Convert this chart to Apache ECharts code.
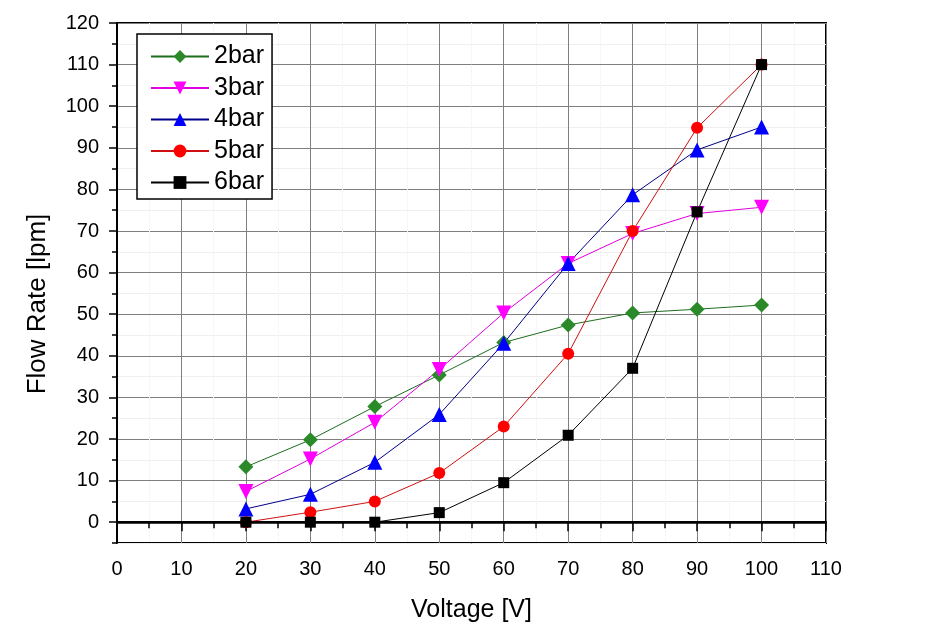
<!DOCTYPE html>
<html>
<head>
<meta charset="utf-8">
<script src="https://cdn.jsdelivr.net/npm/echarts@6/dist/echarts.min.js"></script>
<style>html,body{margin:0;padding:0;background:#fff}#c{width:928px;height:639px}</style>
</head>
<body>
<div id="c"></div>
<script>
const voltage = [20, 30, 40, 50, 60, 70, 80, 90, 100];
const bar2 = [13.3, 19.8, 27.8, 35.4, 43.2, 47.4, 50.3, 51.2, 52.2];
const bar3 = [7.4, 15.2, 24.0, 36.7, 50.3, 62.2, 69.4, 74.2, 75.7];
const bar4 = [3.2, 6.7, 14.4, 25.9, 43.0, 62.2, 78.7, 89.5, 95.0];
const bar5 = [0, 2.4, 5.0, 11.8, 23.0, 40.5, 70.0, 94.8, 110.0];
const bar6 = [0, 0, 0, 2.3, 9.5, 20.9, 37.0, 74.6, 110.0];
const yMajorTicks = [0, 10, 20, 30, 40, 50, 60, 70, 80, 90, 100, 110, 120];

const FONT = 'Liberation Sans, Arial, sans-serif';
function pairs(ys) { return voltage.map((x, i) => [x, ys[i]]); }

const seriesDefs = [
  { name: '2bar', data: bar2, color: '#2a8a2a', line: '#1e6e1e', symbol: 'diamond', size: 15 },
  { name: '3bar', data: bar3, color: '#ff00ff', line: '#e000e0', symbol: 'triangle', size: 15, rotate: 180 },
  { name: '4bar', data: bar4, color: '#0000ff', line: '#00008b', symbol: 'triangle', size: 15 },
  { name: '5bar', data: bar5, color: '#ff0000', line: '#d01010', symbol: 'circle', size: 12 },
  { name: '6bar', data: bar6, color: '#000000', line: '#000000', symbol: 'rect', size: 11 }
];

const series = seriesDefs.map(d => ({
  name: d.name,
  type: 'line',
  xAxisIndex: 0,
  yAxisIndex: 0,
  data: pairs(d.data),
  symbol: d.symbol,
  symbolSize: d.size,
  symbolRotate: d.rotate || 0,
  itemStyle: { color: d.color },
  lineStyle: { color: d.line, width: 1 },
  animation: false
}));
series[4].markLine = {
  silent: true,
  symbol: 'none',
  label: { show: false },
  lineStyle: { color: '#000', width: 2.5, type: 'solid' },
  data: [{ yAxis: 0 }]
};

const gridRect = { left: 117, right: 102, top: 23, bottom: 96 };

const chart = echarts.init(document.getElementById('c'));
chart.setOption({
  backgroundColor: '#fff',
  animation: false,
  textStyle: { fontFamily: FONT },
  grid: [
    Object.assign({ show: true, borderColor: '#000', borderWidth: 2, backgroundColor: 'transparent' }, gridRect),
    Object.assign({ show: false }, gridRect)
  ],
  legend: {
    orient: 'vertical',
    left: 137,
    top: 34,
    itemWidth: 58,
    itemHeight: 16,
    itemGap: 6.5,
    padding: [10, 8, 4, 13],
    borderColor: '#000',
    borderWidth: 1.5,
    backgroundColor: '#fff',
    textStyle: { fontSize: 25, color: '#000', fontFamily: FONT, lineHeight: 25 },
    data: seriesDefs.map(d => d.name)
  },
  xAxis: [
    {
      type: 'value',
      gridIndex: 0,
      min: 0, max: 110, interval: 10,
      name: 'Voltage [V]',
      nameLocation: 'middle',
      nameGap: 55,
      nameTextStyle: { fontSize: 25, color: '#000', fontFamily: FONT },
      axisLine: { show: true, lineStyle: { color: '#000', width: 2 } },
      axisTick: { show: true, length: 9, lineStyle: { color: '#000', width: 1.5 } },
      minorTick: { show: true, splitNumber: 2, length: 6, lineStyle: { color: '#000', width: 1.5 } },
      axisLabel: { fontSize: 20, color: '#000', margin: 16, fontFamily: FONT },
      splitLine: { show: true, lineStyle: { color: '#7f7f7f', width: 1 } },
      minorSplitLine: { show: true, lineStyle: { color: '#efefef', width: 1, type: 'dotted' } }
    },
    {
      type: 'value',
      gridIndex: 1,
      min: 0, max: 110,
      show: false
    }
  ],
  yAxis: [
    {
      type: 'value',
      gridIndex: 0,
      min: -5, max: 120, interval: 5,
      name: 'Flow Rate [lpm]',
      nameLocation: 'middle',
      nameGap: 66,
      nameTextStyle: { fontSize: 26, color: '#000', fontFamily: FONT, padding: [0, 42, 0, 0] },
      axisLine: { show: true, lineStyle: { color: '#000', width: 2 } },
      axisTick: { show: true, length: 5, lineStyle: { color: '#000', width: 1.5 } },
      axisLabel: { fontSize: 20, color: '#000', margin: 18, fontFamily: FONT,
        formatter: v => (v % 10 === 0 ? String(v) : '') },
      splitLine: { show: true, showMinLine: true, lineStyle: { color: ['#efefef', '#7f7f7f'], width: 1 } }
    },
    {
      type: 'value',
      gridIndex: 1,
      min: -5, max: 120,
      position: 'left',
      axisLine: { show: false },
      axisTick: { show: true, length: 8, customValues: yMajorTicks, lineStyle: { color: '#000', width: 1.5 } },
      axisLabel: { show: false },
      splitLine: { show: false }
    }
  ],
  series: series
});
</script>
</body>
</html>
